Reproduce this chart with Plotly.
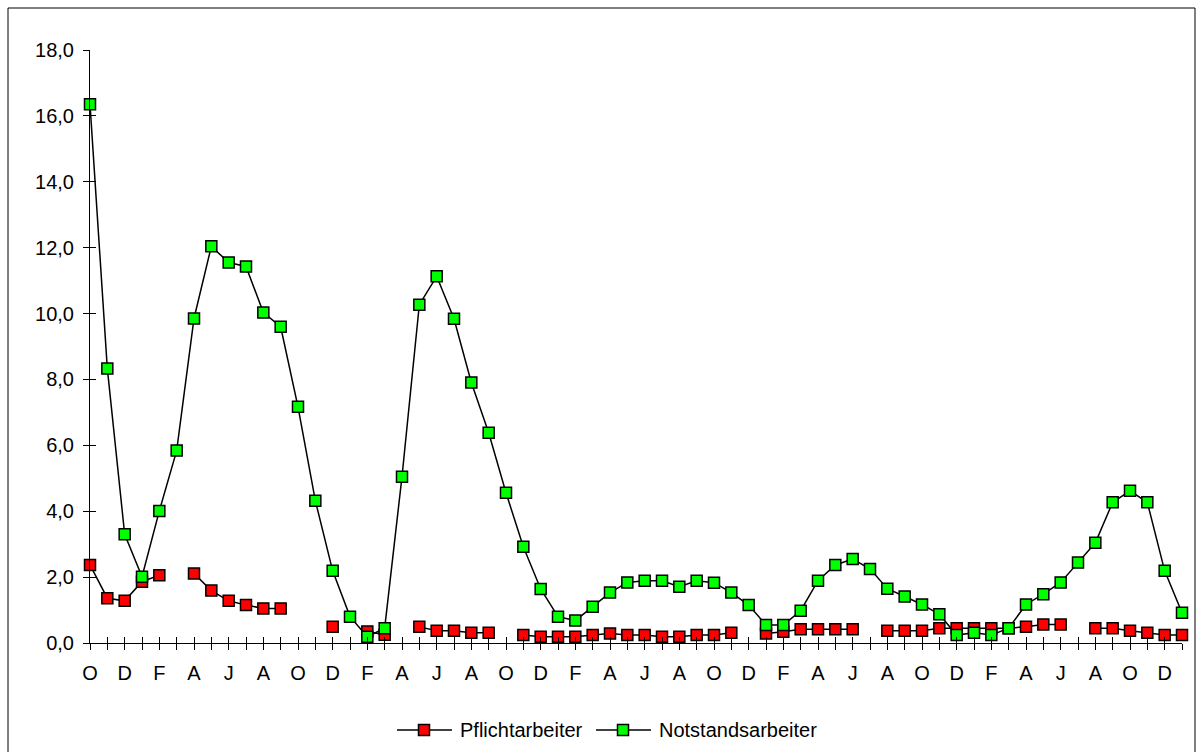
import plotly.graph_objects as go

# Monthly series, October of the first year through January five years later
month_cycle = ["O", "N", "D", "J", "F", "M", "A", "M", "J", "J", "A", "S"]
months = [month_cycle[i % 12] for i in range(64)]

pflichtarbeiter = [
    2.37, 1.36, 1.28, 1.86, 2.06, None, 2.11, 1.59, 1.28, 1.15, 1.05, 1.05,
    None, None, 0.49, None, 0.35, 0.25, None, 0.49, 0.37, 0.37, 0.31, 0.31,
    None, 0.24, 0.19, 0.19, 0.19, 0.24, 0.29, 0.24, 0.24, 0.19, 0.19, 0.24,
    0.24, 0.31, None, 0.29, 0.34, 0.42, 0.42, 0.42, 0.42, None, 0.37, 0.37,
    0.37, 0.45, 0.45, 0.45, 0.45, 0.45, 0.49, 0.56, 0.56, None, 0.45, 0.45,
    0.37, 0.31, 0.24, 0.24,
]

notstandsarbeiter = [
    16.35, 8.33, 3.30, 2.01, 4.01, 5.84, 9.85, 12.04, 11.55, 11.43, 10.03, 9.60,
    7.17, 4.32, 2.19, 0.80, 0.19, 0.45, 5.05, 10.27, 11.13, 9.84, 7.91, 6.38,
    4.56, 2.92, 1.64, 0.80, 0.68, 1.10, 1.53, 1.84, 1.89, 1.89, 1.71, 1.89,
    1.83, 1.53, 1.15, 0.55, 0.55, 0.98, 1.89, 2.37, 2.55, 2.25, 1.65, 1.41,
    1.17, 0.87, 0.24, 0.31, 0.24, 0.45, 1.17, 1.48, 1.84, 2.44, 3.04, 4.27,
    4.62, 4.27, 2.19, 0.92,
]

y_ticks = [0, 2, 4, 6, 8, 10, 12, 14, 16, 18]

series_names = ["Pflichtarbeiter", "Notstandsarbeiter"]
series_colors = ["#FF0000", "#00FF00"]

x = list(range(len(months)))
tick_text = [m if i % 2 == 0 else "" for i, m in enumerate(months)]

FONT = "Liberation Sans, Arial, sans-serif"

# page geometry (pixels) of the plotting area
W, H = 1203, 752
L, R, T, B = 90, 21, 50, 109
PW, PH = W - L - R, H - T - B


def px(xp):
    return (xp - L) / PW


def py(yp):
    return (H - B - yp) / PH


fig = go.Figure()

for name, values, color in zip(series_names,
                               [pflichtarbeiter, notstandsarbeiter],
                               series_colors):
    fig.add_trace(go.Scatter(
        x=x, y=values, name=name, mode="lines+markers",
        line=dict(color="black", width=1.5),
        marker=dict(symbol="square", size=11, color=color,
                    line=dict(color="black", width=1.5)),
        cliponaxis=False, connectgaps=False, showlegend=False,
    ))

# helper trace so the overlay axes (inner half of the cross tick marks) are drawn
fig.add_trace(go.Scatter(x=[None], y=[None], xaxis="x2", yaxis="y2",
                         showlegend=False, hoverinfo="skip"))

x_last = len(months) - 1

# outer chart frame, then the legend below the axis:
# a line with a square marker, followed by the series name
shapes = [dict(
    type="rect", xref="paper", yref="paper",
    x0=px(8), x1=px(1195), y0=py(762), y1=py(8),
    line=dict(color="black", width=1), fillcolor="rgba(0,0,0,0)",
    layer="below",
)]
annotations = []
legend_y = 730
for name, color, x_start in zip(series_names, series_colors, [397, 596]):
    shapes.append(dict(type="line", xref="paper", yref="paper",
                       x0=px(x_start), x1=px(x_start + 55),
                       y0=py(legend_y), y1=py(legend_y),
                       line=dict(color="black", width=1.5)))
    mid = x_start + 27
    shapes.append(dict(type="rect", xref="paper", yref="paper",
                       x0=px(mid - 5.5), x1=px(mid + 5.5),
                       y0=py(legend_y + 5.5), y1=py(legend_y - 5.5),
                       fillcolor=color, line=dict(color="black", width=1.5)))
    annotations.append(dict(text=name, xref="paper", yref="paper",
                            x=px(x_start + 61), y=py(legend_y),
                            xanchor="left", yanchor="middle",
                            showarrow=False, font=dict(size=20)))

fig.update_layout(
    width=W, height=H,
    margin=dict(l=L, r=R, t=T, b=B, autoexpand=False),
    paper_bgcolor="white", plot_bgcolor="white",
    font=dict(family=FONT, size=20, color="black"),
    separators=",.",
    showlegend=False,
    xaxis=dict(
        range=[0, x_last], tickmode="array", tickvals=x, ticktext=tick_text,
        ticks="outside", ticklen=6, tickwidth=1, tickcolor="black",
        showline=True, linecolor="black", linewidth=1,
        showgrid=False, zeroline=False, ticklabelstandoff=6,
        tickfont=dict(size=20),
    ),
    yaxis=dict(
        range=[0, 18], tickmode="array", tickvals=y_ticks, tickformat=".1f",
        ticks="outside", ticklen=6, tickwidth=1, tickcolor="black",
        showline=True, linecolor="black", linewidth=1,
        showgrid=False, zeroline=False, ticklabelstandoff=5,
        tickfont=dict(size=20),
    ),
    xaxis2=dict(
        overlaying="x", anchor="y2", range=[0, x_last], tickmode="array",
        tickvals=x, ticks="inside", ticklen=6, tickwidth=1, tickcolor="black",
        showticklabels=False, showline=False, showgrid=False, zeroline=False,
    ),
    yaxis2=dict(
        overlaying="y", anchor="x2", range=[0, 18], tickmode="array",
        tickvals=y_ticks, ticks="inside", ticklen=6, tickwidth=1,
        tickcolor="black", showticklabels=False, showline=False,
        showgrid=False, zeroline=False,
    ),
    shapes=shapes,
    annotations=annotations,
)

fig.write_html("out.html")
